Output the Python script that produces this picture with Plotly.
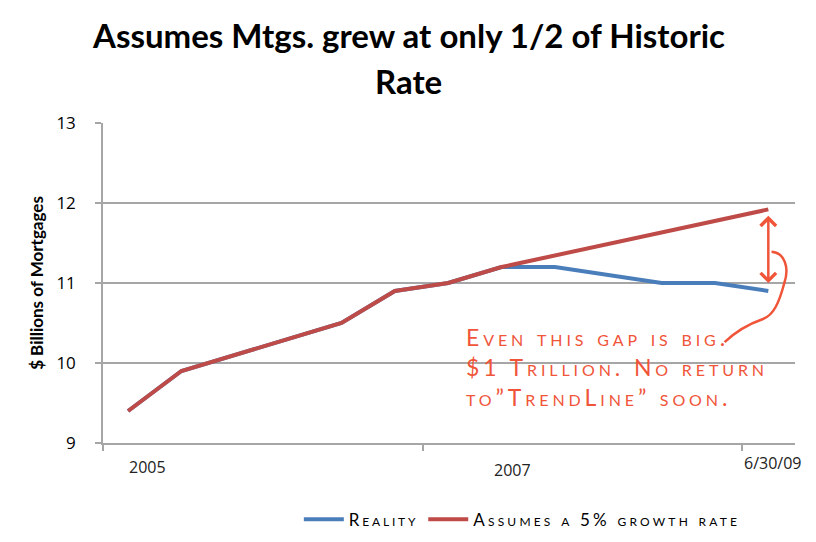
import plotly.graph_objects as go

# slot positions along the time axis (2005 .. 6/30/09)
slots_reality = [0, 1, 4, 5, 6, 7, 8, 10, 11, 12]
reality = [9.4, 9.9, 10.5, 10.9, 11.0, 11.2, 11.2, 11.0, 11.0, 10.9]

slots_trend = [0, 1, 4, 5, 6, 7, 12]
trend_5pct = [9.4, 9.9, 10.5, 10.9, 11.0, 11.2, 11.92]

y_ticks = [9, 10, 11, 12, 13]
x_labels = ["2005", "2007", "6/30/09"]
x_label_pos = [0.36, 7.2, 12.08]
x_label_shift = [-24, -27, -20]

BLUE = "#4a7ebb"
RED = "#be4b48"
ORANGE = "#f0553a"
GRID = "#a6a6a6"


def spaced(txt, px):
    return f'<span style="letter-spacing:{px}px">{txt}</span>'


fig = go.Figure()
fig.add_trace(go.Scatter(x=slots_reality, y=reality, mode="lines",
                         name=spaced("Reality", 2.8),
                         line=dict(color=BLUE, width=4)))
fig.add_trace(go.Scatter(x=slots_trend, y=trend_5pct, mode="lines",
                         name=spaced("Assumes a 5% growth rate", 3.2),
                         line=dict(color=RED, width=4)))

# page body adds an 8px margin, so the figure is a bit smaller than the window
fig.update_layout(
    width=800, height=526,
    margin=dict(l=95, r=13, t=115, b=91, autoexpand=False),
    paper_bgcolor="white", plot_bgcolor="white",
    showlegend=True,
    legend=dict(orientation="h", x=0.283, xanchor="left",
                y=0.027, yref="container", yanchor="middle",
                font=dict(family="Lato", size=17, color="black", variant="small-caps"),
                itemwidth=40, tracegroupgap=0),
)

fig.add_annotation(text="<b>Assumes Mtgs. grew at only 1/2 of Historic</b>",
                   x=0.442, xref="paper", y=1, yref="paper", yshift=88,
                   yanchor="middle", showarrow=False,
                   font=dict(family="Lato", size=33, color="black"))
fig.add_annotation(text="<b>Rate</b>",
                   x=0.442, xref="paper", y=1, yref="paper", yshift=42,
                   yanchor="middle", showarrow=False,
                   font=dict(family="Lato", size=33, color="black"))

fig.update_xaxes(range=[-0.47, 12.5], showgrid=False, zeroline=False,
                 showline=True, linecolor=GRID, linewidth=1.5,
                 tickvals=[-0.47, 5.53, 11.51], ticktext=["", "", ""],
                 ticks="outside", ticklen=6, tickcolor=GRID, tickwidth=1.5)
fig.update_yaxes(range=[9, 13], tickvals=y_ticks, showgrid=True,
                 gridcolor=GRID, gridwidth=1.5, zeroline=False,
                 showline=True, linecolor=GRID, linewidth=1.5,
                 ticks="outside", ticklen=6, tickcolor=GRID, tickwidth=1.5,
                 ticklabelstandoff=16,
                 tickfont=dict(family="Open Sans", size=17, color="black"),
                 title=dict(text="<b>$ Billions of Mortgages</b>", standoff=8,
                            font=dict(family="Lato", size=17, color="black")))

for lbl, pos, shift in zip(x_labels, x_label_pos, x_label_shift):
    fig.add_annotation(text=lbl, x=pos, xref="x", y=0, yref="paper",
                       yanchor="middle", yshift=shift, showarrow=False,
                       font=dict(family="Open Sans", size=16, color="#222"))

# handwritten note
note = "<br>".join(spaced(s, 3.9) for s in
                   ["Even this gap is big.", "$1 Trillion. No return",
                    "to\u201dTrendLine\u201d soon."])
fig.add_annotation(text=note, x=6.3, xref="x", y=10.53, yref="y",
                   xanchor="left", yanchor="top", align="left", showarrow=False,
                   font=dict(family="Lato", size=23, color=ORANGE, variant="small-caps"))

# double-headed arrow across the gap
fig.add_annotation(x=12, y=11.84, ax=12, ay=10.98, xref="x", yref="y",
                   axref="x", ayref="y", text="", showarrow=True,
                   arrowhead=4, arrowside="end+start", arrowsize=1.2,
                   arrowwidth=2.5, arrowcolor=ORANGE)

# curly stroke leading to the note
fig.add_shape(type="path", xref="x", yref="y",
              path="M 12.06 11.39 C 12.3 11.38, 12.4 11.2, 12.3 11.0 "
                   "C 12.2 10.75, 12.1 10.6, 11.9 10.55 "
                   "C 11.6 10.48, 11.4 10.4, 11.18 10.26",
              line=dict(color=ORANGE, width=2.5))

fig.write_html("out.html")
